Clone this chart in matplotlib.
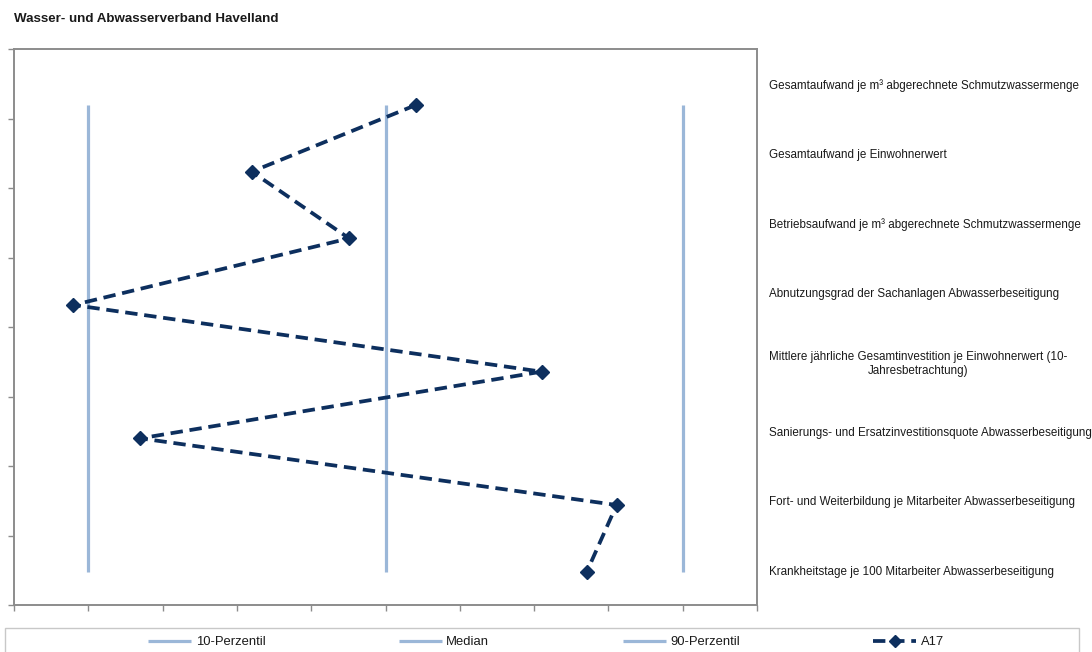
import numpy as np
import matplotlib
matplotlib.use("Agg")
import matplotlib.pyplot as plt
from matplotlib.patches import Rectangle

plt.rcParams['font.family'] = ['Liberation Sans', 'DejaVu Sans']

title = "Wasser- und Abwasserverband Havelland"

indicators = [
    "Gesamtaufwand je m³ abgerechnete Schmutzwassermenge",
    "Gesamtaufwand je Einwohnerwert",
    "Betriebsaufwand je m³ abgerechnete Schmutzwassermenge",
    "Abnutzungsgrad der Sachanlagen Abwasserbeseitigung",
    "Mittlere jährliche Gesamtinvestition je Einwohnerwert (10-\nJahresbetrachtung)",
    "Sanierungs- und Ersatzinvestitionsquote Abwasserbeseitigung",
    "Fort- und Weiterbildung je Mitarbeiter Abwasserbeseitigung",
    "Krankheitstage je 100 Mitarbeiter Abwasserbeseitigung",
]

# Position of the utility on the normalised scale (0..10) for each indicator
a17_values = [5.41, 3.20, 4.51, 0.80, 7.10, 1.70, 8.11, 7.71]

# Reference lines: 10th percentile, median, 90th percentile
reference_names = ["10-Perzentil", "Median", "90-Perzentil"]
reference_values = [1, 5, 9]
series_name = "A17"

ref_color = "#9bb7d8"
a17_color = "#0d2f5e"
frame_color = "#8c8c8c"
text_color = "#1a1a1a"

W, H, DPI = 1092, 652, 100
fig = plt.figure(figsize=(W / DPI, H / DPI), dpi=DPI)

left, right, top, bottom = 14, 757, 49, 605
ax = fig.add_axes([left / W, 1 - bottom / H, (right - left) / W, (bottom - top) / H])

n = len(indicators)

# Series drawn against the indicator rank (top indicator = highest rank)
ranks = np.arange(n, 0, -1)
axp = ax.twinx()
axp.set_ylim(0.5, 8.84)
axp.set_xlim(0, 10)
axp.axis('off')

# Category frame: boundaries as ticks on the left, names on the right
ax.set_xlim(0, 10)
ax.set_ylim(0, n)
ax.set_yticks(np.arange(n + 1))
ax.set_yticks(np.arange(n) + 0.5, minor=True)
ax.set_yticklabels(indicators[::-1], minor=True)
ax.set_yticklabels([])
ax.tick_params(axis='y', which='major', left=True, right=False, labelleft=False,
               labelright=False, direction='out', length=4, width=1, color=frame_color)
ax.tick_params(axis='y', which='minor', left=False, right=False, labelleft=False,
               labelright=True, length=0, pad=8.5, labelsize=8.4, labelcolor=text_color)
for lbl in ax.get_yticklabels(minor=True):
    lbl.set_multialignment('center')
ax.set_xticks(np.arange(0, 11))
ax.tick_params(axis='x', which='major', bottom=True, labelbottom=False,
               direction='out', length=4, width=1, color=frame_color)
for sp in ax.spines.values():
    sp.set_color(frame_color)
    sp.set_linewidth(1.4)

handles = []
for name, val in zip(reference_names, reference_values):
    h, = axp.plot([val] * n, ranks, color=ref_color, lw=2.3, solid_capstyle='butt',
                  label=name, zorder=2)
    handles.append(h)

h, = axp.plot(a17_values, ranks, color=a17_color, lw=2.7, linestyle=(0, (3.3, 1.8)),
              marker='D', markersize=7.5, markeredgecolor=a17_color,
              markerfacecolor=a17_color, label=series_name, zorder=3)
handles.append(h)

fig.text(14 / W, 1 - 19 / H, title, fontsize=9.6, fontweight='bold',
         ha='left', va='center', color=text_color)

# Legend strip across the bottom
fig.patches.append(Rectangle((5 / W, -20 / H), (1079 - 5) / W, (652 - 628 + 20) / H,
                             transform=fig.transFigure, fill=False,
                             edgecolor="#c8c8c8", linewidth=1))
fig.legend(handles=handles, loc='center', bbox_to_anchor=(546 / W, 1 - 642 / H),
           ncol=4, frameon=False, fontsize=9.4, handlelength=3.3, markerscale=0.8,
           handletextpad=0.35, columnspacing=10.2, borderpad=0, labelcolor=text_color)

fig.savefig("out.png", dpi=DPI)
